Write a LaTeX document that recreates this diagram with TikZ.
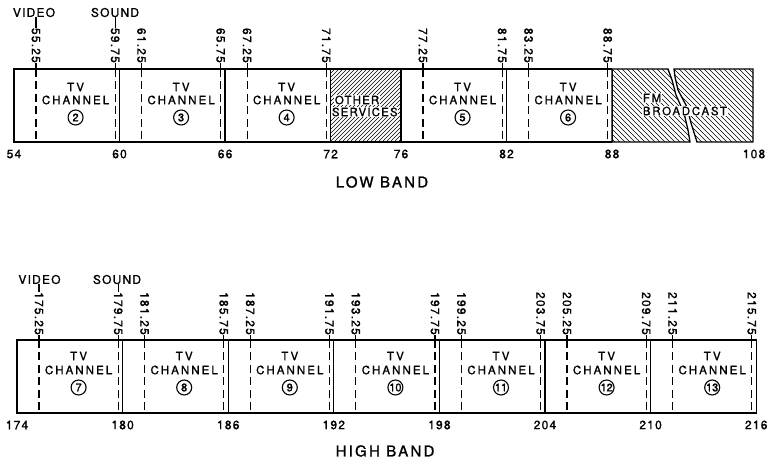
\documentclass[tikz,border=0pt]{standalone}
\usepackage{fontspec}
\setmainfont{TeX Gyre Heros}
\newfontfamily\numfont[LetterSpace=10,FakeBold=1.2]{TeX Gyre Heros}
\newfontfamily\boxfont[LetterSpace=18,FakeBold=1.2]{TeX Gyre Heros}
\newfontfamily\svcfont[LetterSpace=10,FakeBold=1.2]{TeX Gyre Heros}
\newfontfamily\fmfont[LetterSpace=15,FakeBold=1.2]{TeX Gyre Heros}
\newfontfamily\bandfont[LetterSpace=15,FakeBold=1.2]{TeX Gyre Heros}
\newfontfamily\cnumfont[FakeBold=1.5]{TeX Gyre Heros}
\tikzset{
  edge/.style={line width=1.3pt},
  carrier/.style={line width=1.1pt, dash pattern=on 8pt off 4.5pt},
  tickbar/.style={line width=1.1pt},
  ticklab/.style={rotate=-90, anchor=east, inner sep=0pt, font=\numfont\fontsize{12}{12}\selectfont},
  freqlab/.style={inner sep=0pt, font=\numfont\fontsize{12}{12}\selectfont},
  chtext/.style={inner sep=0pt, font=\boxfont\fontsize{11.5}{11.5}\selectfont},
  chnum/.style={circle, draw, line width=1.1pt, minimum size=15pt, inner sep=0pt, font=\cnumfont\fontsize{11}{11}\selectfont},
  hatch/.style={line width=0.6pt},
  knock/.style={fill=white, inner sep=0.7pt},
  bandlab/.style={inner sep=0pt, font=\bandfont\fontsize{15}{15}\selectfont},
}
\begin{document}
\begin{tikzpicture}[x=1pt,y=-1pt]
\useasboundingbox (0,0) rectangle (769,462);
% ================= LOW BAND =================
% hatching: other services
\begin{scope}
  \clip (330.6,69) rectangle (401,142);
  \foreach \k in {-20,...,20} \draw[hatch] ({330+\k*4},142) -- ++(90,-90);
\end{scope}
% FM broadcast pieces
\def\fmleft{(612.1,69) -- (668,69) -- (672,80) -- (676,95) -- (684,113) -- (688,130) -- (690,142) -- (612.1,142) -- cycle}
\def\fmright{(674,69) -- (753,69) -- (753,142) -- (697,142) -- (691,123) -- (687,107) -- (678,90) -- (675,77) -- cycle}
\begin{scope}
  \clip \fmleft;
  \foreach \k in {-20,...,20} \draw[hatch] ({612+\k*5},69) -- ++(90,90);
\end{scope}
\begin{scope}
  \clip \fmright;
  \foreach \k in {-20,...,20} \draw[hatch] ({674+\k*5},69) -- ++(90,90);
\end{scope}
\draw[edge] \fmleft;
\draw[edge] \fmright;
% box outline 54..88
\draw[edge] (612.1,69) -- (14,69) -- (14,142) -- (612.1,142);
\foreach \f in {60,66,72,76,82} \draw[edge] ({14+(\f-54)*17.59},69) -- ({14+(\f-54)*17.59},142);
% carriers
\foreach \f/\t [count=\i] in {55.25/55.25,59.75/59.75,61.25/61.25,65.75/65.75,67.25/67.25,71.75/71.75,77.25/77.25,81.75/81.75,83.25/83.25,87.75/88.75} {
  \pgfmathsetmacro\xx{14+(\f-54)*17.59}
  \node[ticklab] (tt\i) at (\xx,63) {\t};
  \draw[tickbar] (tt\i.east) -- (\xx,69);
  \draw[carrier] (\xx,69) -- (\xx,142);
}
% channel texts
\foreach \f/\n in {54/2,60/3,66/4,76/5,82/6} {
  \pgfmathsetmacro\xc{14+(\f+3.5-54)*17.59}
  \node[chtext] (tvt\n) at (\xc,87) {TV};
  \node[chtext] (cht\n) at (\xc,100) {CHANNEL};
  \node[chnum] (num\n) at (\xc,117.5) {\n};
}
\node[knock, font=\svcfont\fontsize{11.5}{11.5}\selectfont, anchor=west] (oth) at (334,100) {OTHER};
\node[knock, font=\svcfont\fontsize{11.5}{11.5}\selectfont, anchor=west] (svc) at (331,112) {SERVICES};
\node[knock, font=\fmfont\fontsize{11.5}{11.5}\selectfont, anchor=west] (fm) at (642,98) {FM};
\node[knock, font=\fmfont\fontsize{11.5}{11.5}\selectfont, anchor=west] (bc) at (642,111) {BROADCAST};
% video / sound
\node[freqlab] (vidA) at (34,12.5) {VIDEO};
\node[freqlab] (sndA) at (115,12.5) {SOUND};
\draw[tickbar] (tt1.west) -- (tt1.west |- vidA.south);
\draw[tickbar] (tt2.west) -- (tt2.west |- sndA.south);
% frequency labels
\foreach \f [count=\i] in {54,60,66,72,76,82,88} \node[freqlab] (fa\i) at ({14+(\f-54)*17.59},154) {\f};
\node[freqlab] (fa8) at (754,154) {108};
\node[bandlab] (low) at (382,182) {LOW BAND};
% ================= HIGH BAND =================
\draw[edge] (17,340) rectangle (756.2,413);
\foreach \f in {180,186,...,210} \draw[edge] ({17+(\f-174)*17.6},340) -- ({17+(\f-174)*17.6},413);
\foreach \f [count=\i] in {175.25,179.75,181.25,185.75,187.25,191.75,193.25,197.75,199.25,203.75,205.25,209.75,211.25,215.75} {
  \pgfmathsetmacro\xx{17+(\f-174)*17.6}
  \node[ticklab] (tb\i) at (\xx,335) {\f};
  \draw[tickbar] (tb\i.east) -- (\xx,340);
  \draw[carrier] (\xx,340) -- (\xx,413);
}
\foreach \f/\n in {174/7,180/8,186/9,192/10,198/11,204/12,210/13} {
  \pgfmathsetmacro\xc{17+(\f+3.5-174)*17.6}
  \node[chtext] (tvb\n) at (\xc,356) {TV};
  \node[chtext] (chb\n) at (\xc,370) {CHANNEL};
  \node[chnum] (nb\n) at (\xc,387.5) {\n};
}
\node[freqlab] (vidB) at (39.5,279.5) {VIDEO};
\node[freqlab] (sndB) at (117,279.5) {SOUND};
\draw[tickbar] (tb1.west) -- (tb1.west |- vidB.south);
\draw[tickbar] (tb2.west) -- (tb2.west |- sndB.south);
\foreach \f [count=\i] in {174,180,...,216} \node[freqlab] (fb\i) at ({17+(\f-174)*17.6},425) {\f};
\node[bandlab] (high) at (385,451) {HIGH BAND};
\end{tikzpicture}
\end{document}
